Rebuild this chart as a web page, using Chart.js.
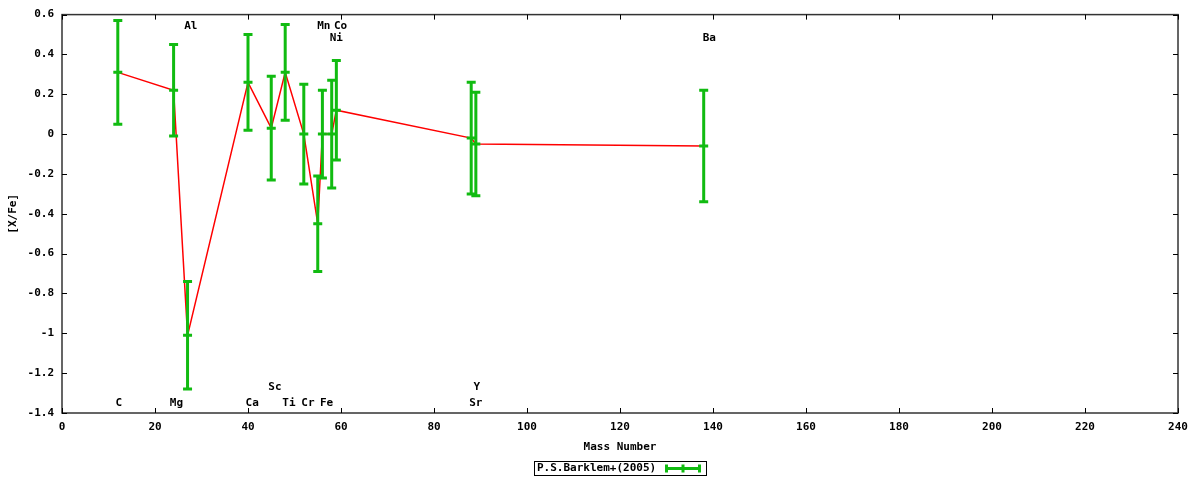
<!DOCTYPE html>
<html>
<head>
<meta charset="utf-8">
<script src="https://cdn.jsdelivr.net/npm/chart.js@4.4.0/dist/chart.umd.min.js"></script>
<style>
  html,body{margin:0;padding:0;background:#fff}
  #wrap{width:1200px;height:480px;position:relative}
</style>
</head>
<body>
<div id="wrap"><canvas id="chart" width="1200" height="480"></canvas></div>
<script>
// Data
const elements    = ['C','Mg','Al','Ca','Sc','Ti','Cr','Mn','Fe','Ni','Co','Sr','Y','Ba'];
const massNumbers = [12, 24, 27, 40, 45, 48, 52, 55, 56, 58, 59, 88, 89, 138];
const abundances  = [0.31, 0.22, -1.01, 0.26, 0.03, 0.31, 0.00, -0.45, 0.00, 0.00, 0.12, -0.02, -0.05, -0.06];
const errors      = [0.26, 0.23, 0.27, 0.24, 0.26, 0.24, 0.25, 0.24, 0.22, 0.27, 0.25, 0.28, 0.26, 0.28];

// element name labels (data coords)
const labelText = ['C','Mg','Al','Ca','Sc','Ti','Cr','Mn','Fe','Ni','Co','Sr','Y','Ba'];
const labelX    = [12.2, 24.6, 27.7, 40.9, 45.8, 48.8, 52.9, 56.3, 56.9, 59.0, 59.9, 89.0, 89.2, 139.2];
const labelY    = [-1.35, -1.35, 0.54, -1.35, -1.27, -1.35, -1.35, 0.54, -1.35, 0.48, 0.54, -1.35, -1.27, 0.48];

const xTickValues = [0,20,40,60,80,100,120,140,160,180,200,220,240];
const yTickValues = [0.6,0.4,0.2,0,-0.2,-0.4,-0.6,-0.8,-1,-1.2,-1.4];
const yTickLabels = ['0.6','0.4','0.2','0','-0.2','-0.4','-0.6','-0.8','-1','-1.2','-1.4'];

const seriesName = 'P.S.Barklem+(2005)';
const xTitle = 'Mass Number';
const yTitle = '[X/Fe]';

const GREEN = '#11bb11';
const RED = '#ff0000';
const FONT = 'bold 11px "DejaVu Sans Mono"';

Chart.defaults.font.family = '"DejaVu Sans Mono"';
Chart.defaults.font.size = 11;
Chart.defaults.font.weight = 'bold';
Chart.defaults.color = '#000';

const points = massNumbers.map((m,i)=>({x:m, y:abundances[i]}));

function drawErrBar(ctx, x, yTop, yMid, yBot, half){
  ctx.beginPath();
  ctx.moveTo(x, yTop); ctx.lineTo(x, yBot);
  ctx.moveTo(x-half, yTop); ctx.lineTo(x+half, yTop);
  ctx.moveTo(x-half, yBot); ctx.lineTo(x+half, yBot);
  ctx.moveTo(x-half, yMid); ctx.lineTo(x+half, yMid);
  ctx.stroke();
}

const gnuplotLook = {
  id:'gnuplotLook',
  afterDatasetsDraw(chart){
    const {ctx, scales:{x,y}} = chart;
    ctx.save();
    ctx.strokeStyle = GREEN; ctx.lineWidth = 3; ctx.lineCap = 'butt';
    massNumbers.forEach((m,i)=>{
      const px = x.getPixelForValue(m);
      drawErrBar(ctx, px,
        y.getPixelForValue(abundances[i]+errors[i]),
        y.getPixelForValue(abundances[i]),
        y.getPixelForValue(abundances[i]-errors[i]), 4.5);
    });
    ctx.restore();
  },
  afterDraw(chart){
    const {ctx, chartArea:a, scales:{x,y}} = chart;
    ctx.save();
    // border
    ctx.strokeStyle = '#333'; ctx.lineWidth = 1.5;
    ctx.strokeRect(a.left, a.top, a.right-a.left, a.bottom-a.top);
    // inward ticks, mirrored
    ctx.lineWidth = 1; ctx.strokeStyle = '#000';
    ctx.beginPath();
    x.ticks.forEach(t=>{
      const px = Math.round(x.getPixelForValue(t.value))+0.5;
      ctx.moveTo(px, a.bottom); ctx.lineTo(px, a.bottom-5);
      ctx.moveTo(px, a.top); ctx.lineTo(px, a.top+5);
    });
    y.ticks.forEach(t=>{
      const py = Math.round(y.getPixelForValue(t.value))+0.5;
      ctx.moveTo(a.left, py); ctx.lineTo(a.left+5, py);
      ctx.moveTo(a.right, py); ctx.lineTo(a.right-5, py);
    });
    ctx.stroke();
    // element labels
    ctx.font = FONT; ctx.fillStyle = '#000';
    ctx.textAlign = 'center'; ctx.textBaseline = 'middle';
    labelText.forEach((s,i)=>{
      ctx.fillText(s, x.getPixelForValue(labelX[i]), y.getPixelForValue(labelY[i]));
    });
    // axis titles
    ctx.fillText(xTitle, (a.left+a.right)/2, 447);
    ctx.save();
    ctx.translate(13, (a.top+a.bottom)/2);
    ctx.rotate(-Math.PI/2);
    ctx.fillText(yTitle, 0, 0);
    ctx.restore();
    // legend
    ctx.strokeStyle = '#000'; ctx.lineWidth = 1;
    ctx.strokeRect(534.5, 461.5, 172, 14);
    ctx.textAlign = 'left';
    ctx.fillText(seriesName, 537, 468.5);
    ctx.strokeStyle = GREEN; ctx.lineWidth = 3;
    ctx.beginPath();
    ctx.moveTo(665, 468.5); ctx.lineTo(701, 468.5);
    [666.5, 683, 699.5].forEach(px=>{ ctx.moveTo(px, 464.5); ctx.lineTo(px, 472.5); });
    ctx.stroke();
    ctx.restore();
  }
};

new Chart(document.getElementById('chart'), {
  type:'scatter',
  data:{
    datasets:[{
      label: seriesName,
      data: points,
      showLine: true,
      borderColor: RED,
      borderWidth: 1.5,
      pointRadius: 0,
      tension: 0
    }]
  },
  options:{
    responsive:false,
    animation:false,
    devicePixelRatio:1,
    layout:{padding:{top:14,right:22,left:0,bottom:0}},
    plugins:{legend:{display:false}, tooltip:{enabled:false}},
    scales:{
      x:{
        type:'linear', min:0, max:240,
        afterBuildTicks(s){ s.ticks = xTickValues.map(v=>({value:v})); },
        afterFit(s){ s.height = 67; },
        grid:{display:false, drawTicks:false},
        border:{display:false},
        ticks:{padding:8, maxRotation:0, autoSkip:false}
      },
      y:{
        type:'linear', min:-1.4, max:0.6,
        afterBuildTicks(s){ s.ticks = yTickValues.map(v=>({value:v})); },
        afterFit(s){ s.width = 62; },
        grid:{display:false, drawTicks:false},
        border:{display:false},
        ticks:{padding:8, autoSkip:false, callback:(v,i)=>yTickLabels[i]}
      }
    }
  },
  plugins:[gnuplotLook]
});
</script>
</body>
</html>
